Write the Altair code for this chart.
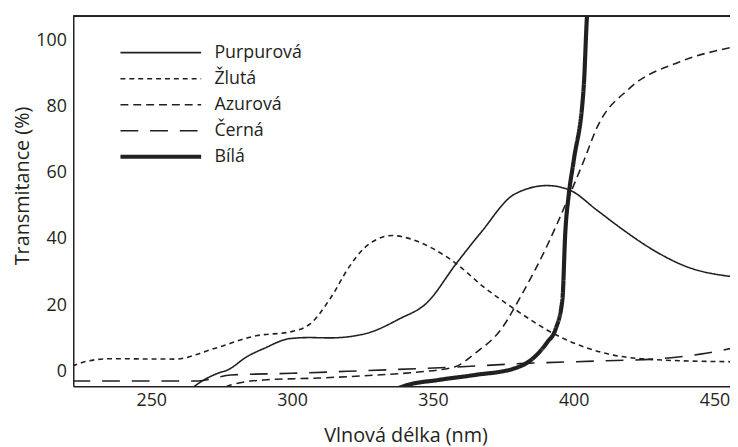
import altair as alt
import pandas as pd

series_names = ["Purpurová", "Žlutá", "Azurová", "Černá", "Bílá"]

purp_wl = [264.0, 265.4, 273.6, 277.1, 284.1, 290.0, 299.3, 306.0, 313.4, 322.8, 327.0, 338.0, 348.0, 358.0, 367.3, 379.0, 390.6, 398.9, 408.2, 417.6, 428.1, 439.8, 457.0]
purp_t = [-5.5, -4.5, -0.6, 0.4, 4.5, 6.9, 9.9, 10.2, 10.1, 10.8, 11.6, 15.8, 20.8, 32.2, 42.2, 53.5, 56.1, 54.6, 48.7, 42.7, 36.7, 31.7, 28.5]

zlut_wl = [222.0, 226.0, 235.0, 258.4, 272.4, 287.6, 299.3, 306.4, 313.4, 320.4, 325.6, 330.0, 335.6, 342.0, 349.7, 358.0, 368.0, 379.0, 394.2, 414.1, 431.6, 457.0]
zlut_t = [1.6, 2.8, 3.8, 3.7, 6.9, 10.8, 11.9, 14.3, 21.8, 31.7, 37.2, 39.8, 41.0, 40.0, 37.2, 32.7, 25.5, 18.8, 10.8, 4.9, 3.4, 2.9]

azur_wl = [276.0, 277.1, 290.0, 310.0, 330.0, 345.0, 357.9, 364.9, 374.3, 381.3, 390.6, 397.7, 403.6, 408.2, 419.9, 437.5, 457.0]
azur_t = [-5.0, -4.4, -2.6, -2.0, -1.1, -0.2, 1.4, 5.4, 12.8, 22.8, 38.0, 51.6, 63.6, 73.5, 85.5, 93.4, 98.0]

cern_wl = [222.0, 266.6, 278.3, 300.0, 325.6, 358.0, 382.5, 408.0, 431.6, 445.0, 457.0]
cern_t = [-2.9, -2.9, -1.1, -0.6, 0.2, 1.3, 2.4, 3.1, 3.9, 5.2, 7.1]

bila_wl = [338.0, 340.3, 352.0, 364.9, 379.0, 384.8, 390.7, 393.6, 396.0, 397.0, 398.3, 400.0, 403.6, 404.7, 405.5]
bila_t = [-5.0, -4.3, -2.6, -1.1, 0.9, 3.4, 8.9, 12.8, 21.8, 41.7, 53.7, 63.6, 86.5, 107.0, 115.0]

x_ticks = [250, 300, 350, 400, 450]
y_ticks = [0, 20, 40, 60, 80, 100]

ink = "#231f20"
font = "Open Sans"

rows = []
for name, wl, t in [
    ("Purpurová", purp_wl, purp_t),
    ("Žlutá", zlut_wl, zlut_t),
    ("Azurová", azur_wl, azur_t),
    ("Černá", cern_wl, cern_t),
    ("Bílá", bila_wl, bila_t),
]:
    for i, (a, b) in enumerate(zip(wl, t)):
        rows.append({"wl": a, "T": b, "series": name, "idx": i})
df = pd.DataFrame(rows)
leg = pd.DataFrame({"series": series_names})

dash_scale = alt.Scale(domain=series_names, range=[[1, 0], [5, 4], [8, 5], [18, 12], [1, 0]])
width_expr = "datum.series == 'Bílá' ? 4.2 : 1.6"

W, H = 664, 374

lines = alt.Chart(df).transform_calculate(sw=width_expr).mark_line(
    clip=True, interpolate="monotone", color=ink
).encode(
    x=alt.X("wl:Q", scale=alt.Scale(domain=[222.3, 455.5], nice=False, zero=False),
            axis=alt.Axis(values=x_ticks, title="Vlnová délka (nm)", titleX=336, titleY=50,
                          titleBaseline="middle", titleAlign="center")),
    y=alt.Y("T:Q", scale=alt.Scale(domain=[-4.5, 107.2], nice=False, zero=False),
            axis=alt.Axis(values=y_ticks, title="Transmitance (%)", titleX=-51, titleY=171,
                          titleAngle=270, titleAlign="center", titleBaseline="middle")),
    detail="series:N",
    order="idx:Q",
    strokeDash=alt.StrokeDash("series:N", scale=dash_scale, legend=None),
    strokeWidth=alt.StrokeWidth("sw:Q", scale=None),
)

top_border = alt.Chart(leg).mark_rule(color=ink, strokeWidth=1.5).encode(
    x=alt.value(0), x2=alt.value(W), y=alt.value(0)
)

leg_y = alt.Y("series:N", sort=series_names, axis=None,
              scale=alt.Scale(type="point", range=[36.7, 142], padding=0))

leg_lines = alt.Chart(leg).transform_calculate(sw=width_expr).mark_rule(color=ink).encode(
    x=alt.value(47.7), x2=alt.value(129.3), y=leg_y,
    strokeDash=alt.StrokeDash("series:N", scale=dash_scale, legend=None),
    strokeWidth=alt.StrokeWidth("sw:Q", scale=None),
)
leg_text = alt.Chart(leg).mark_text(align="left", baseline="middle", font=font, fontSize=18, color=ink).encode(
    x=alt.value(142.7), y=leg_y, text="series:N"
)
legend_layer = alt.layer(leg_lines, leg_text)

chart = alt.layer(lines, top_border, legend_layer).resolve_scale(
    y="independent"
).properties(
    width=W, height=H,
    autosize=alt.AutoSizeParams(type="none"),
    padding={"left": 66, "top": 6, "right": 0, "bottom": 59},
).configure_view(stroke=None).configure_axis(
    grid=False, ticks=False, domainColor=ink, domainWidth=1.5,
    labelFont=font, labelFontSize=18, labelColor=ink,
    titleFont=font, titleFontSize=20, titleColor=ink, titleFontWeight="normal",
).configure_axisY(labelPadding=7).configure_axisX(labelPadding=5)

chart.save("out.html", embed_options={"renderer": "svg", "actions": False})
